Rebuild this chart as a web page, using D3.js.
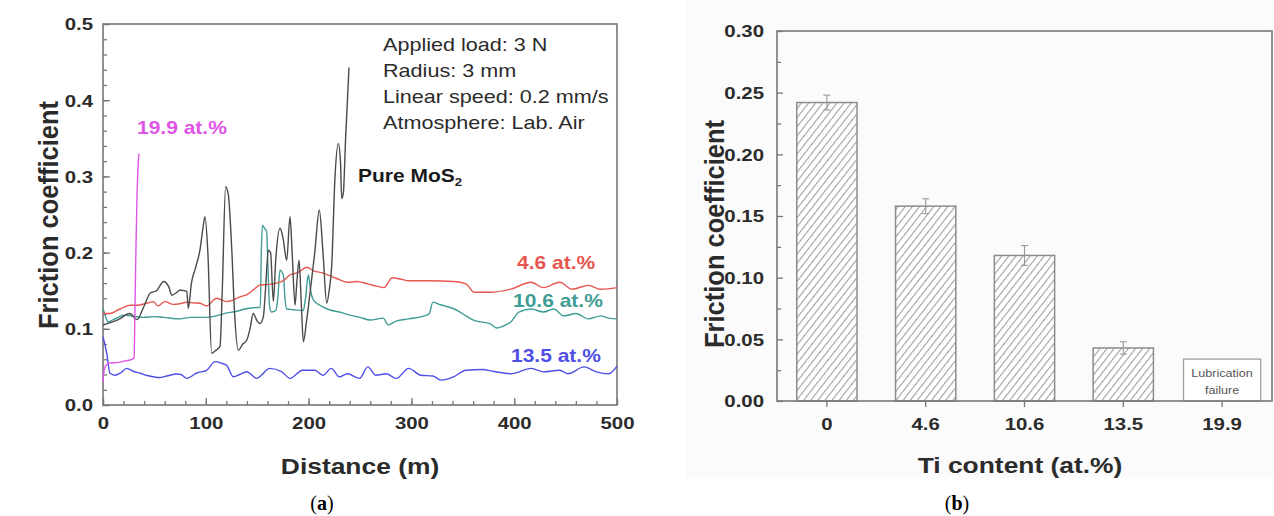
<!DOCTYPE html>
<html><head><meta charset="utf-8">
<script src="https://cdn.jsdelivr.net/npm/d3@7"></script>
<style>body{margin:0;background:#fff}svg{display:block}</style>
</head><body>
<svg id="c" width="1274" height="516"></svg>
<script>
// ---------------- DATA ----------------
// (a) friction coefficient vs distance
const pureMoS2Dist = [0, 7, 15, 26, 33, 40, 46, 52, 59, 64, 67, 72, 75, 79, 81.5, 83, 86, 90, 94.5, 97, 99.2, 102, 105.7, 110, 113.8, 116, 119.3, 121.9, 125.2, 128, 131.6, 136, 139.8, 143, 146.2, 150, 152.7, 156, 158, 160.8, 163, 165.7, 168, 172.2, 175, 178.7, 181.9, 184, 186.8, 188.5, 190.7, 193, 194.9, 198, 201.4, 206, 210.4, 214, 217.6, 220, 222.4, 225.7, 228.9, 231, 232.2, 233.8, 236, 239.3];
const pureMoS2Fric = [0.105, 0.108, 0.112, 0.12, 0.112, 0.13, 0.147, 0.15, 0.162, 0.155, 0.144, 0.148, 0.151, 0.15, 0.149, 0.127, 0.16, 0.18, 0.205, 0.23, 0.247, 0.2, 0.068, 0.072, 0.077, 0.15, 0.2865, 0.276, 0.206, 0.12, 0.072, 0.08, 0.085, 0.1, 0.12, 0.11, 0.107, 0.116, 0.15, 0.203, 0.2, 0.136, 0.19, 0.232, 0.22, 0.19, 0.247, 0.2, 0.131, 0.16, 0.19, 0.13, 0.083, 0.11, 0.147, 0.2, 0.256, 0.2, 0.1335, 0.15, 0.181, 0.3, 0.343, 0.32, 0.271, 0.278, 0.35, 0.443];

const ti46Dist = [0, 6.5, 14.9, 20, 26.3, 33, 42.5, 49, 53.5, 60.3, 68.4, 75, 81.4, 88, 94.4, 100.8, 110.6, 120.3, 127, 133.3, 140, 146.2, 152.7, 160, 169, 175, 181.9, 190, 198.2, 205, 214.3, 220, 227.3, 237.7, 246.8, 257.6, 266.2, 273.4, 281.4, 290, 297.3, 317.2, 341, 353, 361, 376.8, 396.7, 416.5, 428.5, 444.3, 456.3, 472.2, 484, 500];
const ti46Fric = [0.12, 0.12, 0.125, 0.128, 0.131, 0.131, 0.1335, 0.1356, 0.13, 0.1356, 0.132, 0.133, 0.1348, 0.134, 0.1335, 0.13, 0.14, 0.1356, 0.138, 0.142, 0.145, 0.151, 0.1575, 0.158, 0.16, 0.163, 0.1706, 0.174, 0.1807, 0.176, 0.173, 0.17, 0.166, 0.161, 0.162, 0.159, 0.156, 0.154, 0.167, 0.165, 0.163, 0.163, 0.162, 0.159, 0.148, 0.148, 0.152, 0.161, 0.154, 0.161, 0.152, 0.157, 0.152, 0.154];

const ti106Dist = [0, 3, 5, 10, 15, 20, 27, 39, 50, 59, 75, 85, 98.6, 110, 118, 130, 138, 150, 153, 154, 155, 157, 159.2, 160.5, 162, 164, 168, 170, 172.2, 175.5, 177, 178.7, 185, 194.9, 197, 199.7, 202, 204.6, 212, 220.8, 230, 240.3, 250, 259.7, 272.6, 277.5, 285, 297.3, 310, 317.2, 321, 327, 333, 345, 353, 361, 376.8, 382.7, 390, 396.7, 404.6, 416.5, 428.5, 438.4, 448.3, 460.2, 472.2, 484, 492, 500];
const ti106Fric = [0.127, 0.114, 0.109, 0.112, 0.115, 0.118, 0.117, 0.115, 0.116, 0.115, 0.113, 0.115, 0.115, 0.117, 0.12, 0.123, 0.126, 0.128, 0.128, 0.2, 0.236, 0.232, 0.2275, 0.18, 0.13, 0.122, 0.124, 0.14, 0.177, 0.17, 0.14, 0.126, 0.125, 0.124, 0.14, 0.1706, 0.15, 0.138, 0.13, 0.1247, 0.122, 0.118, 0.115, 0.1115, 0.114, 0.105, 0.11, 0.113, 0.116, 0.1196, 0.135, 0.132, 0.13, 0.124, 0.117, 0.111, 0.1065, 0.101, 0.104, 0.109, 0.122, 0.126, 0.122, 0.126, 0.117, 0.12, 0.113, 0.117, 0.114, 0.113];

const ti135Dist = [0, 3.6, 6.8, 11.7, 17, 23, 30, 35.7, 42, 49, 55, 62, 71.7, 76, 81.4, 91.1, 100.8, 109, 115, 120.3, 126.8, 133, 139.8, 149.5, 154, 162, 174, 182, 194, 206, 214, 222, 230, 237.7, 249.6, 257.6, 265.5, 275.4, 285.4, 297.3, 309.2, 321, 329, 341, 353, 368.8, 380, 396.7, 416.5, 428.5, 444.3, 452.3, 468, 480, 492, 500];
const ti135Fric = [0.0897, 0.068, 0.0416, 0.039, 0.042, 0.048, 0.044, 0.042, 0.039, 0.037, 0.036, 0.038, 0.0407, 0.04, 0.035, 0.042, 0.0455, 0.0569, 0.055, 0.052, 0.037, 0.04, 0.0437, 0.035, 0.039, 0.048, 0.0435, 0.035, 0.0457, 0.0457, 0.039, 0.048, 0.037, 0.041, 0.035, 0.05, 0.039, 0.041, 0.035, 0.048, 0.039, 0.038, 0.0326, 0.037, 0.0457, 0.0465, 0.044, 0.041, 0.048, 0.0435, 0.0457, 0.041, 0.05, 0.0435, 0.041, 0.051];

const ti199Dist = [0, 1, 3, 6, 15, 22, 28, 30.3, 31, 32, 33, 34, 35];
const ti199Fric = [0.03, 0.045, 0.052, 0.055, 0.056, 0.058, 0.06, 0.062, 0.12, 0.2, 0.27, 0.31, 0.33];

const leftXTicks = [0, 100, 200, 300, 400, 500];
const leftYTicks = [0.0, 0.1, 0.2, 0.3, 0.4, 0.5];
const testConditions = ["Applied load: 3 N", "Radius: 3 mm", "Linear speed: 0.2 mm/s", "Atmosphere: Lab. Air"];

// (b) average friction coefficient vs Ti content
const tiContent = ["0", "4.6", "10.6", "13.5", "19.9"];
const avgFriction = [0.242, 0.158, 0.118, 0.043];
const avgFrictionErr = [0.006, 0.006, 0.008, 0.005];
const failureCategory = "19.9";
const failureBoxTop = 0.034;
const rightYTicks = [0.00, 0.05, 0.10, 0.15, 0.20, 0.25, 0.30];

// ---------------- DRAW ----------------
const svg = d3.select('#c');
const FONT = '"Liberation Sans", Arial, Helvetica, sans-serif';
const SX = 1.2;
const INK = '#2b2b2b';
const AX = '#777';

function label(g, x, y, s, o = {}) {
  const sx = o.sx ?? SX;
  const rot = o.rot ? ` rotate(${o.rot})` : '';
  const sc = o.rot ? `scale(1,${sx})` : `scale(${sx},1)`;
  return g.append('text')
    .attr('transform', `translate(${x},${y})${rot} ${sc}`)
    .attr('text-anchor', o.anchor || 'start')
    .attr('dominant-baseline', 'central')
    .attr('font-family', o.family || FONT)
    .attr('font-size', o.size || 17)
    .attr('font-weight', o.weight || 'normal')
    .attr('fill', o.fill || INK)
    .text(s);
}

svg.append('rect').attr('x', 686).attr('y', 0).attr('width', 588).attr('height', 478).attr('fill', '#fbfbfb');

// ===== (a) =====
const gA = svg.append('g');
const xA = d3.scaleLinear().domain([0, 500]).range([103, 617]);
const yA = d3.scaleLinear().domain([0, 0.5]).range([405, 24]);

// minor ticks
gA.append('g').attr('transform', `translate(0,${yA(0)})`)
  .call(d3.axisBottom(xA).tickValues(d3.range(0, 501, 20)).tickSize(-4).tickFormat(''))
  .call(g => g.select('.domain').remove());
gA.append('g').attr('transform', `translate(${xA(0)},0)`)
  .call(d3.axisLeft(yA).tickValues(d3.range(0, 0.501, 0.02)).tickSize(-4).tickFormat(''))
  .call(g => g.select('.domain').remove());
// major
const axBA = gA.append('g').attr('transform', `translate(0,${yA(0)})`)
  .call(d3.axisBottom(xA).tickValues(leftXTicks).tickSize(-7).tickPadding(12).tickFormat(d3.format('d')));
const axLA = gA.append('g').attr('transform', `translate(${xA(0)},0)`)
  .call(d3.axisLeft(yA).tickValues(leftYTicks).tickSize(-7).tickPadding(10 / SX).tickFormat(d3.format('.1f')));
[axBA, axLA].forEach(a => {
  a.selectAll('.tick text').attr('font-family', FONT).attr('font-size', 17).attr('font-weight', 'bold')
    .attr('fill', INK).attr('transform', `scale(${SX},1)`);
});
axLA.selectAll('.tick text').attr('dy', '0.35em');
gA.selectAll('.tick line').attr('stroke', AX).attr('stroke-width', 1.3);
gA.selectAll('.domain').attr('stroke', 'none');
// frame
gA.append('rect').attr('x', xA(0)).attr('y', yA(0.5)).attr('width', xA(500) - xA(0)).attr('height', yA(0) - yA(0.5))
  .attr('fill', 'none').attr('stroke', AX).attr('stroke-width', 1.6);

const series = [
  { d: ti135Dist, f: ti135Fric, c: '#4f4fe6' },
  { d: ti106Dist, f: ti106Fric, c: '#3f9d95' },
  { d: ti46Dist, f: ti46Fric, c: '#e85650' },
  { d: pureMoS2Dist, f: pureMoS2Fric, c: '#4a4a4a' },
  { d: ti199Dist, f: ti199Fric, c: '#e055e6' },
];
const line = d3.line().x(p => xA(p[0])).y(p => yA(p[1])).curve(d3.curveMonotoneX);
series.forEach(s => {
  gA.append('path').datum(d3.zip(s.d, s.f)).attr('d', line)
    .attr('fill', 'none').attr('stroke', s.c).attr('stroke-width', 1.4).attr('stroke-linejoin', 'round');
});

testConditions.forEach((t, i) => label(gA, 383, 45 + i * 26, t, { size: 18 }));
label(gA, 137, 128, '19.9 at.%', { size: 17.5, weight: 'bold', fill: '#e055e6' });
const pm = label(gA, 358, 176, '', { size: 17.5, weight: 'bold', fill: '#1a1a1a' });
pm.append('tspan').text('Pure MoS');
pm.append('tspan').attr('font-size', 11).attr('dy', 6).text('2');
label(gA, 517, 263, '4.6 at.%', { size: 17.5, weight: 'bold', fill: '#e85650' });
label(gA, 513, 301, '10.6 at.%', { size: 17.5, weight: 'bold', fill: '#3f9d95' });
label(gA, 511, 356, '13.5 at.%', { size: 17.5, weight: 'bold', fill: '#4f4fe6' });

label(gA, 360, 466, 'Distance (m)', { size: 22, weight: 'bold', anchor: 'middle' });
label(gA, 49, 215, 'Friction coefficient', { size: 25.5, weight: 'bold', anchor: 'middle', rot: -90, sx: 1.08 });
const la = label(gA, 322, 503, '(', { size: 20, family: '"Liberation Serif", "Times New Roman", serif', anchor: 'middle', sx: 1, fill: '#000' });
la.append('tspan').attr('font-weight', 'bold').text('a');
la.append('tspan').text(')');

// ===== (b) =====
const gB = svg.append('g');
const xB = d3.scaleBand().domain(tiContent).range([777, 1272]).paddingInner(0.39).paddingOuter(0.2);
const yB = d3.scaleLinear().domain([0, 0.30]).range([401, 31]);

const defs = svg.append('defs');
const pat = defs.append('pattern').attr('id', 'hatch').attr('patternUnits', 'userSpaceOnUse')
  .attr('width', 5.6).attr('height', 10).attr('patternTransform', 'rotate(38)');
pat.append('rect').attr('width', 5.6).attr('height', 10).attr('fill', '#fff');
pat.append('line').attr('x1', 0.5).attr('y1', 0).attr('x2', 0.5).attr('y2', 10).attr('stroke', '#9c9c9c').attr('stroke-width', 1.1);

gB.append('g').attr('transform', `translate(${xB.range()[0]},0)`)
  .call(d3.axisLeft(yB).tickValues(d3.range(0.025, 0.3, 0.05)).tickSize(-4).tickFormat(''))
  .call(g => g.select('.domain').remove());
const axLB = gB.append('g').attr('transform', `translate(${xB.range()[0]},0)`)
  .call(d3.axisLeft(yB).tickValues(rightYTicks).tickSize(-6).tickPadding(13 / SX).tickFormat(d3.format('.2f')));
const axBB = gB.append('g').attr('transform', `translate(0,${yB(0)})`)
  .call(d3.axisBottom(xB).tickSize(6).tickPadding(11));
[axLB, axBB].forEach(a => {
  a.selectAll('.tick text').attr('font-family', FONT).attr('font-size', 17).attr('font-weight', 'bold')
    .attr('fill', INK).attr('transform', `scale(${SX},1)`);
});
axLB.selectAll('.tick text').attr('dy', '0.35em');
gB.selectAll('.tick line').attr('stroke', AX).attr('stroke-width', 1.3);
gB.selectAll('.domain').attr('stroke', 'none');

const bw = xB.bandwidth();
tiContent.slice(0, avgFriction.length).forEach((c, i) => {
  const v = avgFriction[i], e = avgFrictionErr[i];
  const cx = xB(c) + bw / 2;
  gB.append('rect').attr('x', xB(c)).attr('y', yB(v)).attr('width', bw).attr('height', yB(0) - yB(v))
    .attr('fill', 'url(#hatch)').attr('stroke', '#8c8c8c').attr('stroke-width', 1.5);
  gB.append('line').attr('x1', cx).attr('x2', cx).attr('y1', yB(v - e)).attr('y2', yB(v + e)).attr('stroke', '#999').attr('stroke-width', 1.1);
  [v - e, v + e].forEach(t => gB.append('line').attr('x1', cx - 3.5).attr('x2', cx + 3.5).attr('y1', yB(t)).attr('y2', yB(t)).attr('stroke', '#999').attr('stroke-width', 1.1));
});
// lubrication failure box
{
  const cx = xB(failureCategory) + bw / 2;
  const w = bw * 1.28;
  gB.append('rect').attr('x', cx - w / 2).attr('y', yB(failureBoxTop)).attr('width', w).attr('height', yB(0) - yB(failureBoxTop))
    .attr('fill', '#fff').attr('stroke', '#a0a0a0').attr('stroke-width', 1.3);
  label(gB, cx, yB(failureBoxTop) + 14, 'Lubrication', { size: 10.5, anchor: 'middle', fill: '#555' });
  label(gB, cx, yB(failureBoxTop) + 31, 'failure', { size: 10.5, anchor: 'middle', fill: '#555' });
}
gB.append('rect').attr('x', xB.range()[0]).attr('y', yB(0.30)).attr('width', xB.range()[1] - xB.range()[0]).attr('height', yB(0) - yB(0.30))
  .attr('fill', 'none').attr('stroke', AX).attr('stroke-width', 1.6);

label(gB, 1020, 465, 'Ti content (at.%)', { size: 22, weight: 'bold', anchor: 'middle' });
label(gB, 715, 234, 'Friction coefficient', { size: 25.5, weight: 'bold', anchor: 'middle', rot: -90, sx: 1.08 });
const lb = label(gB, 957, 503, '(', { size: 20, family: '"Liberation Serif", "Times New Roman", serif', anchor: 'middle', sx: 1, fill: '#000' });
lb.append('tspan').attr('font-weight', 'bold').text('b');
lb.append('tspan').text(')');
</script>
</body></html>
